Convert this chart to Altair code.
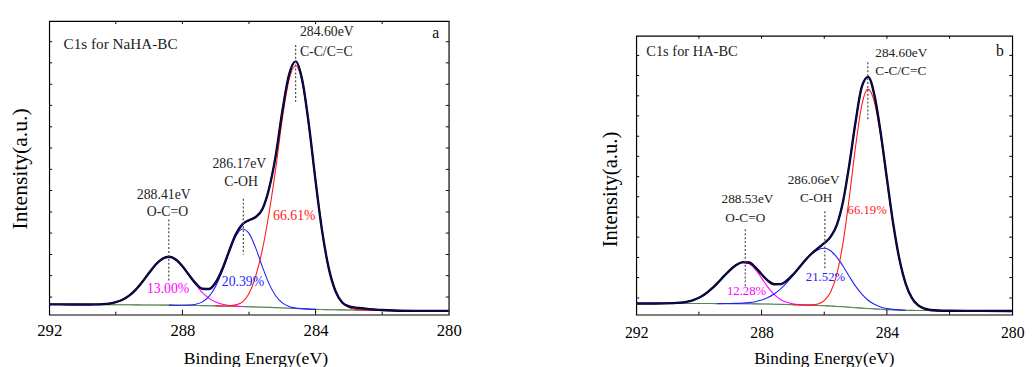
import altair as alt
import pandas as pd

FONT = "Liberation Serif"

# ---------------- data ----------------
energy = [292.0, 291.4, 290.8, 290.6, 290.4, 290.2, 290.0, 289.8, 289.6, 289.4,
          289.2, 289.0, 288.8, 288.6, 288.4, 288.2, 288.0, 287.8, 287.6, 287.4,
          287.2, 287.0, 286.8, 286.6, 286.4, 286.2, 286.0, 285.8, 285.6, 285.4,
          285.2, 285.0, 284.8, 284.6, 284.4, 284.2, 284.0, 283.8, 283.6, 283.4,
          283.2, 283.0, 282.8, 282.6, 282.4, 282.0, 281.0, 280.0]

N = None

# panel a : C1s for NaHA-BC
base_a = [3.5, 3.47, 3.44, 3.43, 3.42, 3.41, 3.40, 3.38, 3.36, 3.34,
          3.32, 3.30, 3.28, 3.26, 3.24, 3.22, 3.20, 3.16, 3.12, 3.08,
          3.04, 3.00, 2.94, 2.88, 2.82, 2.76, 2.70, 2.62, 2.55, 2.48,
          2.40, 2.30, 2.20, 2.10, 2.00, 1.90, 1.80, 1.75, 1.70, 1.66,
          1.63, 1.60, 1.56, 1.52, 1.48, 1.40, 1.30, 1.30]
oco_a = [3.5, 3.47, 3.46, 3.49, 3.58, 3.79, 4.24, 5.08, 6.48, 8.55,
         11.24, 14.25, 17.08, 19.06, 19.74, 18.82, 16.5, 13.36, 10.22, 7.54,
         5.57, 4.29, 3.53, 3.13, 2.91, 2.79, N, N, N, N,
         N, N, N, N, N, N, N, N, N, N,
         N, N, N, N, N, N, N, N]
coh_a = [N, N, N, N, N, N, N, N, N, N,
         N, N, N, N, 3.24, 3.22, 3.23, 3.29, 3.56, 4.36,
         6.22, 9.68, 14.92, 21.18, 26.67, 29.21, 27.7, 22.77, 16.38, 10.57,
         6.44, 4.01, 2.82, 2.29, 2.05, 1.90, 1.80, N, N, N,
         N, N, N, N, N, N, N, N]
cc_a = [N, N, N, N, N, N, N, N, N, N,
        N, N, N, N, N, N, N, N, N, N,
        N, 3.00, 2.98, 3.04, 3.34, 4.27, 7.2, 13.12, 22.05, 34.48,
        49.5, 66.7, 79.9, 84.8, 79.0, 64.1, 45.3, 28.15, 15.6, 7.96,
        4.13, 2.46, 1.81, 1.59, 1.48, 1.40, N, N]
fit_a = [3.5, 3.47, 3.46, 3.49, 3.58, 3.79, 4.24, 5.08, 6.48, 8.55,
         11.24, 14.25, 17.08, 19.06, 19.74, 18.82, 16.53, 13.49, 10.66, 8.82,
         8.75, 10.97, 15.55, 21.59, 27.28, 30.75, 32.2, 33.27, 35.88, 42.8,
         54.0, 69.2, 81.6, 86.3, 79.9, 64.6, 45.5, 28.2, 15.6, 7.96,
         4.13, 2.86, 2.41, 2.19, 1.88, 1.6, 1.3, 1.3]

# panel b : C1s for HA-BC
base_b = [4.0, 4.0, 4.0, 4.0, 4.0, 4.0, 4.0, 3.99, 3.98, 3.97,
          3.96, 3.95, 3.93, 3.91, 3.89, 3.87, 3.85, 3.80, 3.75, 3.70,
          3.65, 3.60, 3.52, 3.44, 3.36, 3.28, 3.20, 3.08, 2.96, 2.84,
          2.68, 2.50, 2.35, 2.20, 2.07, 1.94, 1.80, 1.72, 1.64, 1.58,
          1.54, 1.50, 1.48, 1.46, 1.44, 1.40, 1.35, 1.30]
oco_b = [4.0, 4.01, 4.14, 4.30, 4.62, 5.17, 6.07, 7.41, 9.21, 11.41,
         13.8, 16.05, 17.78, 18.64, 18.28, 16.21, 13.12, 9.89, 7.25, 5.46,
         4.43, 3.9, 3.62, 3.47, 3.36, N, N, N, N, N,
         N, N, N, N, N, N, N, N, N, N,
         N, N, N, N, N, N, N, N]
coh_b = [N, N, N, N, N, N, N, N, N, 3.97,
         3.98, 4.0, 4.04, 4.13, 4.32, 4.66, 5.24, 6.12, 7.41, 9.18,
         11.41, 14.04, 16.82, 19.51, 21.78, 23.28, 23.8, 22.95, 20.65, 17.39,
         13.72, 10.23, 7.35, 5.18, 3.71, 2.78, 2.19, 1.89, 1.71, 1.6,
         N, N, N, N, N, N, N, N]
cc_b = [N, N, N, N, N, N, N, N, N, N,
        N, N, N, N, N, N, N, N, N, N,
        N, 3.60, 3.52, 3.48, 3.52, 3.85, 5.02, 8.02, 14.46, 25.82,
        42.08, 60.35, 75.25, 80.9, 76.27, 64.14, 48.2, 32.42, 19.74, 11.05,
        5.95, 3.33, 2.15, 1.68, 1.5, 1.40, N, N]
fit_b = [4.0, 4.01, 4.14, 4.30, 4.62, 5.17, 6.07, 7.41, 9.21, 11.41,
         13.82, 16.1, 17.89, 18.86, 18.71, 17.0, 14.51, 12.21, 10.91, 10.94,
         12.19, 14.34, 16.92, 19.58, 21.94, 23.85, 25.62, 27.89, 32.15, 40.6,
         53.8, 69.2, 81.8, 85.3, 78.8, 65.3, 48.8, 32.7, 19.85, 11.07,
         5.95, 3.33, 2.15, 1.68, 1.5, 1.4, 1.35, 1.3]

# axis ticks
x_label_values = [292, 288, 284, 280]
x_major_inner = [288, 284]
x_minor_inner = [290, 286, 282]
y_tick_values = [6.0, 13.3, 20.5, 27.8, 35.0, 42.3, 49.5, 56.8, 64.0, 71.3, 78.5, 85.8, 93.0]

# annotations panel a
a_ctr_text = ["286.17eV", "C-OH", "288.41eV", "O-C=O", "13.00%", "20.39%", "66.61%", "a"]
a_ctr_x = [286.29, 286.24, 288.56, 288.45, 288.43, 286.18, 284.64, 280.39]
a_ctr_y = [51.4, 45.3, 40.8, 34.8, 8.6, 11.1, 33.5, 95.8]
a_ctr_col = ["#222222", "#222222", "#222222", "#222222", "#FF00FF", "#1F1FFF", "#FF1A1A", "#111111"]
a_ctr_size = [14, 14, 14, 14, 14, 14, 14, 16]
a_left_text = ["284.60eV", "C-C/C=C", "C1s for NaHA-BC"]
a_left_x = [284.47, 284.47, 291.57]
a_left_y = [96.15, 89.56, 92.1]
a_left_size = [14, 14, 15.5]
a_dot_x = [284.60, 286.17, 288.41]
a_dot_y1 = [91.9, 39.5, 32.4]
a_dot_y2 = [72.3, 20.5, 11.6]

# annotations panel b
b_ctr_text = ["286.06eV", "C-OH", "288.53eV", "O-C=O", "12.28%", "21.52%", "66.19%", "b"]
b_ctr_x = [286.34, 286.26, 288.45, 288.52, 288.48, 285.96, 284.63, 280.39]
b_ctr_y = [48.1, 41.7, 41.4, 34.6, 8.6, 13.4, 37.4, 94.6]
b_ctr_col = ["#222222", "#222222", "#222222", "#222222", "#FF00FF", "#1F1FFF", "#FF1A1A", "#111111"]
b_ctr_size = [13.5, 13.5, 13.5, 13.5, 13, 13, 13, 16]
b_left_text = ["284.60eV", "C-C/C=C", "C1s for HA-BC"]
b_left_x = [284.37, 284.37, 291.68]
b_left_y = [94.0, 87.4, 94.3]
b_left_size = [13.5, 13.5, 14.7]
b_dot_x = [284.61, 285.98, 288.52]
b_dot_y1 = [90.5, 37.1, 30.6]
b_dot_y2 = [70.0, 16.5, 9.5]


def panel(base, oco, coh, cc, fit, ctr, left, dots, W, H, fs):
    df = pd.DataFrame({"energy": energy, "base": base, "oco": oco,
                       "coh": coh, "cc": cc, "fit": fit})
    xs = alt.Scale(domain=[280, 292], reverse=True, nice=False, zero=False)
    ys = alt.Scale(domain=[0, 100], nice=False, zero=False)
    xa = alt.Axis(values=x_label_values, format="d", labelFontSize=fs["lab"],
                  labelFont=FONT, labelColor="black", labelPadding=fs["lpad"],
                  labelFlush=False, labelOverlap=False, ticks=False, domain=False,
                  grid=False, title="Binding Energy(eV)", titleFont=FONT,
                  titleFontSize=fs["xt"], titleFontWeight="normal",
                  titleColor="black", titlePadding=fs["xtpad"], titleX=fs["xtx"])
    ya = alt.Axis(labels=False, ticks=False, domain=False, grid=False,
                  title="Intensity(a.u.)", titleFont=FONT, titleFontSize=fs["yt"],
                  titleFontWeight="normal", titleColor="black",
                  titlePadding=fs["ytpad"], titleY=fs["yty"])

    def X(f):
        return alt.X(f"{f}:Q", scale=xs, axis=xa)

    def Y(f):
        return alt.Y(f"{f}:Q", scale=ys, axis=ya)

    layers = []
    layers.append(alt.Chart(df).mark_line(color="#2E8B2E", strokeWidth=1.1, clip=True,
                                          interpolate="monotone").encode(x=X("energy"), y=Y("base")))
    layers.append(alt.Chart(df).mark_line(color="#808080", strokeWidth=1, opacity=0.6, clip=True,
                                          interpolate="monotone").encode(x=X("energy"), y=Y("base")))
    for col, c in [("oco", "#FF00FF"), ("coh", "#1F1FFF"), ("cc", "#FF1A1A")]:
        layers.append(alt.Chart(df).mark_line(color=c, strokeWidth=1.1, clip=True,
                                              interpolate="monotone").encode(x=X("energy"), y=Y(col)))
    layers.append(alt.Chart(df).mark_line(color="#000000", strokeWidth=2.4, clip=True,
                                          interpolate="monotone").encode(x=X("energy"), y=Y("fit")))
    layers.append(alt.Chart(df).mark_line(color="#0A0A6E", strokeWidth=1.3, clip=True,
                                          interpolate="monotone").encode(x=X("energy"), y=Y("fit")))

    ddf = pd.DataFrame({"x": dots[0], "y1": dots[1], "y2": dots[2]})
    layers.append(alt.Chart(ddf).mark_rule(color="#555555", strokeWidth=1.3,
                                           strokeDash=[2, 2]).encode(
        x=X("x"), y=Y("y1"), y2="y2:Q"))

    cdf = pd.DataFrame({"x": ctr[1], "y": ctr[2], "t": ctr[0], "c": ctr[3], "s": ctr[4]})
    layers.append(alt.Chart(cdf).mark_text(font=FONT, align="center", baseline="middle").encode(
        x=X("x"), y=Y("y"), text="t:N", color=alt.Color("c:N", scale=None),
        size=alt.Size("s:Q", scale=None)))
    ldf = pd.DataFrame({"x": left[1], "y": left[2], "t": left[0], "s": left[3]})
    layers.append(alt.Chart(ldf).mark_text(font=FONT, align="left", baseline="middle",
                                           color="#222222").encode(
        x=X("x"), y=Y("y"), text="t:N", size=alt.Size("s:Q", scale=None)))

    # inward ticks
    mj = pd.DataFrame({"t": x_major_inner})
    mn = pd.DataFrame({"t": x_minor_inner})
    allx = pd.DataFrame({"t": x_major_inner + x_minor_inner})
    yt = pd.DataFrame({"t": y_tick_values})
    layers.append(alt.Chart(mj).mark_rule(color="black", strokeWidth=1).encode(
        x=X("t"), y=alt.value(H), y2=alt.value(H - 5)))
    layers.append(alt.Chart(mn).mark_rule(color="black", strokeWidth=1).encode(
        x=X("t"), y=alt.value(H), y2=alt.value(H - 3)))
    layers.append(alt.Chart(allx).mark_rule(color="black", strokeWidth=1).encode(
        x=X("t"), y=alt.value(0), y2=alt.value(3)))
    layers.append(alt.Chart(yt).mark_rule(color="black", strokeWidth=1).encode(
        y=Y("t"), x=alt.value(0), x2=alt.value(3)))
    layers.append(alt.Chart(yt).mark_rule(color="black", strokeWidth=1).encode(
        y=Y("t"), x=alt.value(W), x2=alt.value(W - 3)))

    return alt.layer(*layers).properties(width=W, height=H)


pa = panel(base_a, oco_a, coh_a, cc_a, fit_a,
           (a_ctr_text, a_ctr_x, a_ctr_y, a_ctr_col, a_ctr_size),
           (a_left_text, a_left_x, a_left_y, a_left_size),
           (a_dot_x, a_dot_y1, a_dot_y2), 407, 299,
           {"lab": 17, "lpad": 8, "xt": 18, "xtpad": 12, "xtx": 210,
            "yt": 22, "ytpad": 18, "yty": 150})
pb = panel(base_b, oco_b, coh_b, cc_b, fit_b,
           (b_ctr_text, b_ctr_x, b_ctr_y, b_ctr_col, b_ctr_size),
           (b_left_text, b_left_x, b_left_y, b_left_size),
           (b_dot_x, b_dot_y1, b_dot_y2), 383, 284,
           {"lab": 16, "lpad": 10, "xt": 17.5, "xtpad": 10, "xtx": 191,
            "yt": 21, "ytpad": 16, "yty": 156})

# empty spacer that pushes panel b down relative to panel a
spacer = alt.Chart(pd.DataFrame({"v": [0]})).mark_point(opacity=0).encode(
    x=alt.value(0), y=alt.value(0)
).properties(width=1, height=12, view=alt.ViewBackground(stroke="transparent"))

right = alt.vconcat(spacer, pb, spacing=0)

chart = alt.hconcat(pa, right, spacing=139).properties(
    padding={"left": 0, "top": 6, "right": 0, "bottom": 0}
).configure(font=FONT).configure_axis(
    labelFont=FONT, titleFont=FONT, titleFontWeight="normal"
).configure_text(font=FONT).configure_view(stroke="black", strokeWidth=1.2)

chart.save("out.html", embed_options={"renderer": "svg", "actions": False})
